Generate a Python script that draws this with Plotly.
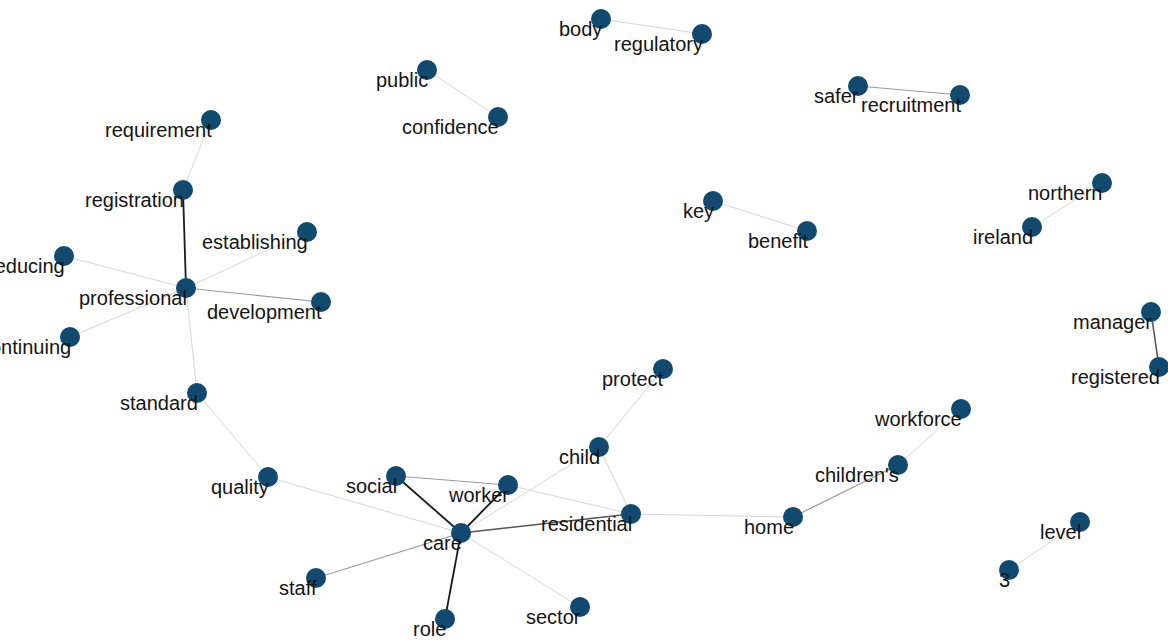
import plotly.graph_objects as go

# node names and positions (layout coordinates)
nodes = ["body", "regulatory", "public", "confidence", "safer", "recruitment",
         "requirement", "registration", "establishing", "reducing", "professional",
         "development", "continuing", "key", "benefit", "northern", "ireland",
         "manager", "registered", "standard", "protect", "workforce", "child",
         "children's", "quality", "social", "worker", "residential", "care",
         "home", "level", "3", "staff", "role", "sector"]
node_x = [601, 702, 427, 498, 858, 960,
          211, 183, 307, 64, 186,
          321, 70, 713, 807, 1102, 1032,
          1151, 1159, 197, 663, 961, 599,
          898, 268, 396, 508, 631, 461,
          793, 1080, 1009, 316, 445, 580]
node_y = [19, 34, 70, 117, 86, 95,
          120, 190, 232, 256, 288,
          302, 337, 201, 231, 183, 227,
          312, 367, 393, 369, 409, 447,
          465, 477, 476, 485, 514, 533,
          517, 522, 570, 578, 619, 607]

# edges: (from, to, strength) strength 1 = weak ... 4 = strong
edges = [
    ("body", "regulatory", 1),
    ("public", "confidence", 1),
    ("safer", "recruitment", 2),
    ("requirement", "registration", 1),
    ("registration", "professional", 4),
    ("professional", "establishing", 1),
    ("professional", "reducing", 1),
    ("professional", "development", 2),
    ("professional", "continuing", 1),
    ("professional", "standard", 1),
    ("key", "benefit", 1),
    ("northern", "ireland", 1),
    ("manager", "registered", 3),
    ("standard", "quality", 1),
    ("quality", "care", 1),
    ("social", "worker", 2),
    ("social", "care", 4),
    ("worker", "care", 4),
    ("worker", "residential", 1),
    ("care", "child", 1),
    ("care", "residential", 3),
    ("care", "staff", 2),
    ("care", "role", 4),
    ("care", "sector", 1),
    ("child", "protect", 1),
    ("child", "residential", 1),
    ("residential", "home", 1),
    ("home", "children's", 2),
    ("children's", "workforce", 1),
    ("level", "3", 1),
]

edge_style = {1: ("#d6d6d6", 1), 2: ("#9a9a9a", 1.2), 3: ("#555555", 1.6), 4: ("#1a1a1a", 1.8)}

pos = {n: (x, y) for n, x, y in zip(nodes, node_x, node_y)}

fig = go.Figure()

# one line trace per edge strength
for w in [1, 2, 3, 4]:
    xs, ys = [], []
    for a, b, s in edges:
        if s != w:
            continue
        xs += [pos[a][0], pos[b][0], None]
        ys += [pos[a][1], pos[b][1], None]
    color, width = edge_style[w]
    fig.add_trace(go.Scatter(x=xs, y=ys, mode="lines",
                             line=dict(color=color, width=width),
                             hoverinfo="skip", showlegend=False))

fig.add_trace(go.Scatter(
    x=node_x, y=node_y, mode="markers",
    marker=dict(size=20, color="#11496f", line=dict(width=0)),
    text=nodes, hoverinfo="text", showlegend=False,
))

# labels sit to the lower left of each node
for n, x, y in zip(nodes, node_x, node_y):
    fig.add_annotation(
        x=x, y=y, text=n, showarrow=False,
        xanchor="right", yanchor="middle",
        xshift=3, yshift=-10,
        font=dict(family="Liberation Sans, Arial", size=20, color="#141414"),
    )

fig.update_layout(
    width=1168, height=641,
    margin=dict(l=0, r=0, t=0, b=0),
    plot_bgcolor="white", paper_bgcolor="white",
    xaxis=dict(range=[0, 1168], visible=False, fixedrange=True),
    yaxis=dict(range=[641, 0], visible=False, fixedrange=True),
)

fig.write_html("out.html", config={"displayModeBar": False},
               post_script="document.body.style.margin='0';document.body.style.overflow='hidden';")
